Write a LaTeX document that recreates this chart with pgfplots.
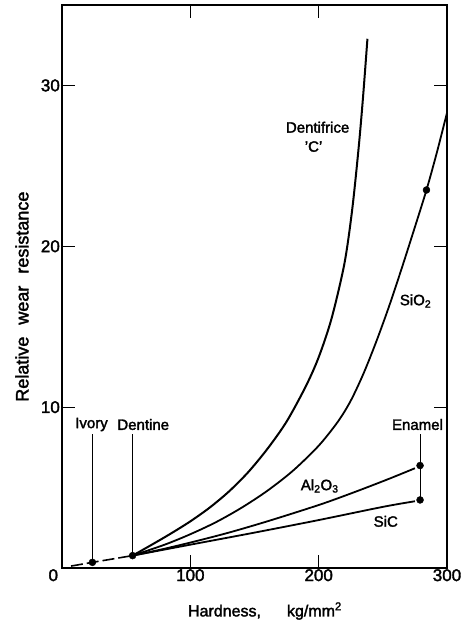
\documentclass[border=0pt]{standalone}
\usepackage{fontspec}
\setmainfont[FakeBold=2]{Liberation Sans}
\usepackage{pgfplots}
\pgfplotsset{compat=1.18}
\begin{document}
\begin{tikzpicture}
\begin{axis}[
  at={(0pt,0pt)}, anchor=south west,
  scale only axis, width=385pt, height=563pt,
  xmin=0, xmax=300, ymin=0, ymax=35,
  axis line style={line width=1.2pt},
  xtick={0,100,200,300},
  xticklabels={\makebox[0pt][r]{0\hspace{4pt}},100,200,300},
  ytick={10,20,30},
  tick align=inside,
  major tick length=13pt,
  every tick/.style={black, line width=1pt},
  tick label style={font=\fontsize{17}{16}\selectfont},
  xticklabel style={inner sep=1pt},
  yticklabel style={inner sep=2pt},
  /pgf/number format/assume math mode=true,
  xlabel={Hardness,\hspace{26pt}kg/mm\textsuperscript{2}},
  xlabel style={font=\fontsize{16}{16}\selectfont, at={(axis description cs:0.527,-0.086)}, anchor=base},
  ylabel={Relative\hspace{12pt}wear\hspace{12pt}resistance},
  ylabel style={font=\fontsize{18}{18}\selectfont, at={(axis description cs:-0.104,0.482)}, anchor=center},
  clip=false,
]
% dashed lower segment
\addplot[black, line width=1.6pt, dash pattern=on 12pt off 4pt] coordinates {(7,0.12) (23.7,0.35) (55,0.77)};
% Dentifrice 'C'
\addplot[black, line width=2pt, smooth, tension=0.5] coordinates {
(55,0.77) (70,1.45) (85,2.15) (100,2.9) (115,3.75) (130,4.75) (145,5.95) (160,7.4)
(175,9.1) (190,11.3) (200,13.1) (210,15.5) (220,18.9) (226,22.2) (231,26.0) (234.5,29.2) (238,32.9)};
% SiO2
\addplot[black, line width=1.8pt, smooth, tension=0.5] coordinates {
(55,0.77) (80,1.45) (100,2.1) (120,2.85) (140,3.75) (160,4.8) (180,6.05) (200,7.6)
(215,9.1) (225,10.4) (235,12.1) (245,14.1) (255,16.3) (265,18.7) (275,21.2) (284,23.5) (292,25.8) (300,28.3)};
% Al2O3
\addplot[black, line width=1.8pt, smooth, tension=0.5] coordinates {
(55,0.77) (80,1.2) (105,1.68) (130,2.2) (155,2.78) (180,3.4) (205,4.05) (230,4.78) (255,5.55) (275,6.2)};
% SiC
\addplot[black, line width=1.8pt, smooth, tension=0.5] coordinates {
(55,0.77) (100,1.45) (150,2.2) (200,2.98) (250,3.8) (275,4.15)};
% leader lines
\addplot[black, line width=0.9pt] coordinates {(23.7,0.35) (23.7,8.3)};
\addplot[black, line width=0.9pt] coordinates {(55,0.77) (55,8.3)};
\addplot[black, line width=0.9pt] coordinates {(279,4.23) (279,8.3)};
% dots
\addplot[only marks, mark=*, mark size=3.5pt, black] coordinates {
(23.7,0.35) (55,0.77) (279,6.37) (279,4.23) (284,23.5)};
% labels
\node[font=\fontsize{15}{14}\selectfont] at (axis cs:23.0,8.92) {Ivory};
\node[font=\fontsize{15}{14}\selectfont] at (axis cs:63.3,8.92) {Dentine};
\node[font=\fontsize{15}{14}\selectfont] at (axis cs:277,8.92) {Enamel};
\node[font=\fontsize{15}{14}\selectfont] at (axis cs:200.8,5.1) {Al\textsubscript{2}O\textsubscript{3}};
\node[font=\fontsize{15}{14}\selectfont] at (axis cs:252.3,2.9) {SiC};
\node[font=\fontsize{15}{14}\selectfont] at (axis cs:275.5,16.6) {SiO\textsubscript{2}};
\node[font=\fontsize{15}{14}\selectfont] at (axis cs:199.2,27.4) {Dentifrice};
\node[font=\fontsize{15}{14}\selectfont] at (axis cs:196,26.2) {\symbol{"27}C\symbol{"27}};
\end{axis}
\pgfresetboundingbox
\path (-62pt,-52pt) rectangle (400pt,568pt);
\end{tikzpicture}
\end{document}
